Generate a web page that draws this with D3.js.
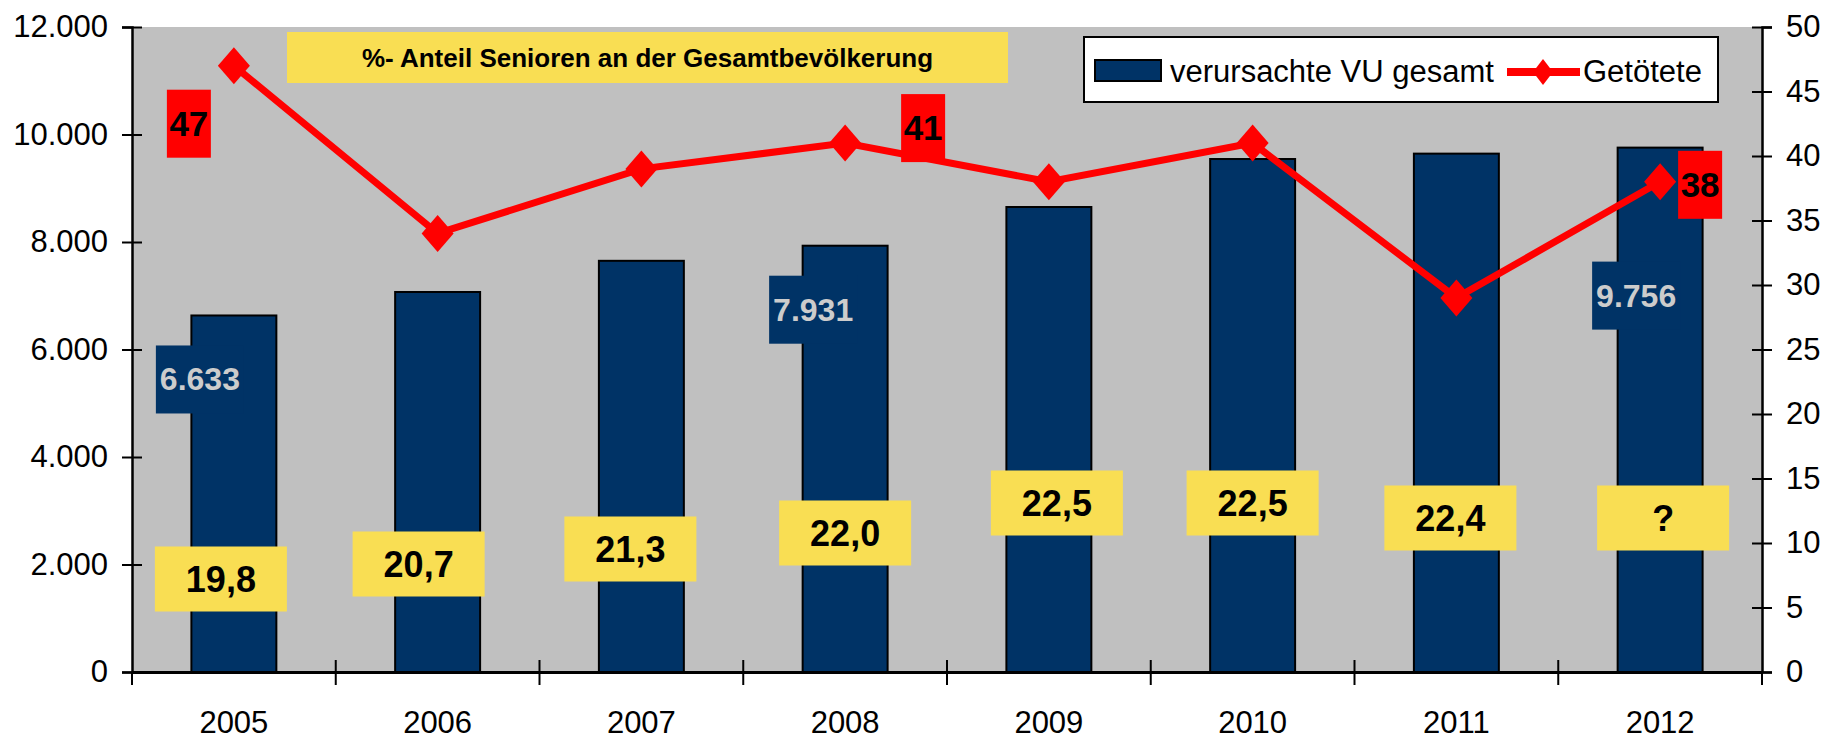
<!DOCTYPE html>
<html>
<head>
<meta charset="utf-8">
<script src="https://cdn.jsdelivr.net/npm/d3@7/dist/d3.min.js"></script>
<style>
  body { margin: 0; background: #fff; }
  svg { display: block; font-family: 'Liberation Sans', Arial, sans-serif; }
</style>
</head>
<body>
<div id="chart"></div>
<script>
// data
const years = ['2005', '2006', '2007', '2008', '2009', '2010', '2011', '2012'];
const vuTotal = [6633, 7070, 7650, 7931, 8651, 9544, 9644, 9756];
const killed = [47, 34, 39, 41, 38, 41, 29, 38];
const seniorShare = ['19,8', '20,7', '21,3', '22,0', '22,5', '22,5', '22,4', '?'];
const leftTicks = [0, 2000, 4000, 6000, 8000, 10000, 12000];
const rightTicks = [0, 5, 10, 15, 20, 25, 30, 35, 40, 45, 50];
const vuLabelYears = ['2005', '2008', '2012'];
const killedLabelYears = ['2005', '2008', '2012'];
const titleText = '%- Anteil Senioren an der Gesamtbevölkerung';
const seriesNames = ['verursachte VU gesamt', 'Getötete'];

// layout
const WIDTH = 1833;
const HEIGHT = 742;
const LEFT = 132;
const RIGHT = 1762;
const TOP = 27;
const BOTTOM = 672;
const BAR_RATIO = 0.417;
const NAVY = '#003366';
const GRAY = '#c0c0c0';
const RED = '#ff0000';
const YELLOW = '#f9de53';

// hand placed annotation boxes (as in the original)
const pctBoxShift = [-13, -19, -11, 0, 8, 0, -6, 3];
const pctBoxY = [579, 564, 549, 533, 503, 503, 518, 518];
const vuLabelShift = [[-34, 64], [-32, 64], [-24, 148]];
const killedLabelShift = [[-45, 58], [78, -15], [40, 3]];

const deFormat = d3.formatLocale({ decimal: ',', thousands: '.', grouping: [3], currency: ['', '€'] });
const fmtThousands = deFormat.format(',d');

const scaleX = d3.scaleBand().domain(years).range([LEFT, RIGHT]).padding(0);
const scaleYL = d3.scaleLinear().domain([0, 12000]).range([BOTTOM, TOP]);
const scaleYR = d3.scaleLinear().domain([0, 50]).range([BOTTOM, TOP]);
const cx = d => scaleX(d) + scaleX.bandwidth() / 2;
const barW = scaleX.bandwidth() * BAR_RATIO;

const $svg = d3.select('#chart').append('svg')
  .attr('width', WIDTH)
  .attr('height', HEIGHT);

$svg.append('rect')
  .attr('x', 0).attr('y', 0)
  .attr('width', WIDTH).attr('height', HEIGHT)
  .attr('fill', '#fff');

// plot background
$svg.append('rect')
  .attr('x', LEFT).attr('y', TOP)
  .attr('width', RIGHT - LEFT).attr('height', BOTTOM - TOP)
  .attr('fill', GRAY);

// bars
$svg.append('g').attr('class', 'g-bars')
  .selectAll('rect')
  .data(years)
  .join('rect')
  .attr('x', d => cx(d) - barW / 2)
  .attr('y', (d, i) => scaleYL(vuTotal[i]))
  .attr('width', barW)
  .attr('height', (d, i) => BOTTOM - scaleYL(vuTotal[i]))
  .attr('fill', NAVY)
  .attr('stroke', '#000')
  .attr('stroke-width', 2);

// line
const line = d3.line()
  .x(d => cx(d))
  .y((d, i) => scaleYR(killed[i]));

$svg.append('path')
  .datum(years)
  .attr('d', line)
  .attr('fill', 'none')
  .attr('stroke', RED)
  .attr('stroke-width', 7);

const diamond = (x, y, hw, hh) => `M${x},${y - hh}L${x + hw},${y}L${x},${y + hh}L${x - hw},${y}Z`;

$svg.append('g').attr('class', 'g-markers')
  .selectAll('path')
  .data(years)
  .join('path')
  .attr('d', (d, i) => diamond(cx(d), scaleYR(killed[i]), 16, 18.5))
  .attr('fill', RED);

// percentage boxes
const $pct = $svg.append('g').attr('class', 'g-pct')
  .selectAll('g')
  .data(years)
  .join('g')
  .attr('transform', (d, i) => `translate(${cx(d) + pctBoxShift[i]}, ${pctBoxY[i]})`);

$pct.append('rect')
  .attr('x', -66).attr('y', -32.5)
  .attr('width', 132).attr('height', 65)
  .attr('fill', YELLOW);

$pct.append('text')
  .attr('text-anchor', 'middle')
  .attr('y', 13)
  .attr('font-size', 36)
  .attr('font-weight', 'bold')
  .attr('fill', '#000')
  .text((d, i) => seniorShare[i]);

// value labels for bars
const $vu = $svg.append('g').attr('class', 'g-vu-labels')
  .selectAll('g')
  .data(vuLabelYears)
  .join('g')
  .attr('transform', (d, i) => {
    const idx = years.indexOf(d);
    return `translate(${cx(d) + vuLabelShift[i][0]}, ${scaleYL(vuTotal[idx]) + vuLabelShift[i][1]})`;
  });

$vu.append('rect')
  .attr('x', -44).attr('y', -34)
  .attr('width', 88).attr('height', 68)
  .attr('fill', NAVY);

$vu.append('text')
  .attr('text-anchor', 'middle')
  .attr('y', 11)
  .attr('font-size', 32)
  .attr('font-weight', 'bold')
  .attr('fill', '#cccccc')
  .text(d => fmtThousands(vuTotal[years.indexOf(d)]));

// value labels for line
const $kl = $svg.append('g').attr('class', 'g-killed-labels')
  .selectAll('g')
  .data(killedLabelYears)
  .join('g')
  .attr('transform', (d, i) => {
    const idx = years.indexOf(d);
    return `translate(${cx(d) + killedLabelShift[i][0]}, ${scaleYR(killed[idx]) + killedLabelShift[i][1]})`;
  });

$kl.append('rect')
  .attr('x', -22).attr('y', -34)
  .attr('width', 44).attr('height', 68)
  .attr('fill', RED);

$kl.append('text')
  .attr('text-anchor', 'middle')
  .attr('y', 12)
  .attr('font-size', 35)
  .attr('font-weight', 'bold')
  .attr('fill', '#000')
  .text(d => killed[years.indexOf(d)]);

// title box
const $title = $svg.append('g').attr('class', 'g-title');
$title.append('rect')
  .attr('x', 287).attr('y', 32)
  .attr('width', 721).attr('height', 51)
  .attr('fill', YELLOW);
$title.append('text')
  .attr('x', 287 + 721 / 2).attr('y', 67)
  .attr('text-anchor', 'middle')
  .attr('font-size', 26)
  .attr('font-weight', 'bold')
  .text(titleText);

// legend
const $legend = $svg.append('g').attr('class', 'g-legend');
$legend.append('rect')
  .attr('x', 1084).attr('y', 37)
  .attr('width', 634).attr('height', 65)
  .attr('fill', '#fff')
  .attr('stroke', '#000')
  .attr('stroke-width', 2);
$legend.append('rect')
  .attr('x', 1095).attr('y', 60)
  .attr('width', 66).attr('height', 21)
  .attr('fill', NAVY)
  .attr('stroke', '#000')
  .attr('stroke-width', 2);
$legend.append('text')
  .attr('x', 1170).attr('y', 82)
  .attr('font-size', 31)
  .text(seriesNames[0]);
$legend.append('line')
  .attr('x1', 1507).attr('x2', 1580)
  .attr('y1', 72).attr('y2', 72)
  .attr('stroke', RED)
  .attr('stroke-width', 8);
$legend.append('path')
  .attr('d', diamond(1543, 72, 10, 13))
  .attr('fill', RED);
$legend.append('text')
  .attr('x', 1583).attr('y', 82)
  .attr('font-size', 31)
  .text(seriesNames[1]);

// axes
const $axisL = $svg.append('g')
  .attr('transform', `translate(${LEFT},0)`)
  .call(d3.axisLeft(scaleYL).tickValues(leftTicks).tickFormat(fmtThousands).tickSizeOuter(0).tickSize(10).tickPadding(14));
$axisL.select('.domain').attr('stroke-width', 2.5);
$axisL.selectAll('.tick line').attr('x2', 10).attr('x1', -10).attr('stroke-width', 2);
$axisL.selectAll('.tick text')
  .attr('font-size', 31)
  .attr('font-family', "'Liberation Sans', Arial, sans-serif")
  .attr('fill', '#000')
  .attr('x', -24);

const $axisR = $svg.append('g')
  .attr('transform', `translate(${RIGHT},0)`)
  .call(d3.axisRight(scaleYR).tickValues(rightTicks).tickSizeOuter(0).tickSize(10).tickPadding(14));
$axisR.select('.domain').attr('stroke-width', 2.5);
$axisR.selectAll('.tick line').attr('x1', -10).attr('x2', 10).attr('stroke-width', 2);
$axisR.selectAll('.tick text')
  .attr('font-size', 31)
  .attr('font-family', "'Liberation Sans', Arial, sans-serif")
  .attr('fill', '#000')
  .attr('x', 24);

const $axisB = $svg.append('g')
  .attr('transform', `translate(0,${BOTTOM})`)
  .call(d3.axisBottom(scaleX).tickSize(0).tickSizeOuter(0).tickPadding(0));
$axisB.select('.domain').attr('stroke-width', 3);
$axisB.selectAll('.tick text')
  .attr('font-size', 31)
  .attr('font-family', "'Liberation Sans', Arial, sans-serif")
  .attr('fill', '#000')
  .attr('dy', null)
  .attr('y', 61);

// category boundary ticks
const bounds = years.map(d => scaleX(d)).concat([scaleX.range()[1]]);
$svg.append('g').attr('class', 'g-xticks')
  .selectAll('line')
  .data(bounds)
  .join('line')
  .attr('x1', d => d).attr('x2', d => d)
  .attr('y1', (d, i) => (i === 0 || i === bounds.length - 1 ? BOTTOM : BOTTOM - 12))
  .attr('y2', BOTTOM + 13)
  .attr('stroke', '#000')
  .attr('stroke-width', 2);
</script>
</body>
</html>
